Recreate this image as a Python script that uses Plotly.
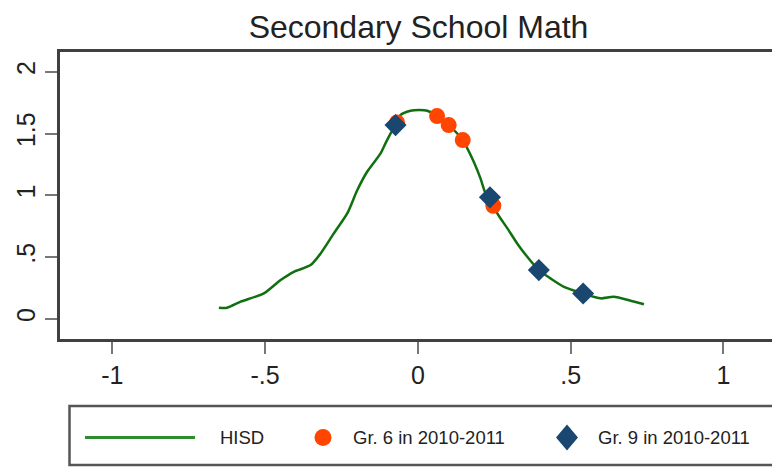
import plotly.graph_objects as go

# HISD kernel density of secondary school math scores
hisd_x = [-0.651, -0.624, -0.58, -0.504, -0.449, -0.406, -0.351, -0.318, -0.275,
          -0.231, -0.198, -0.166, -0.122, -0.106, -0.089, -0.073, -0.057, -0.024,
          0.004, 0.031, 0.063, 0.101, 0.147, 0.162, 0.183, 0.205, 0.222, 0.236,
          0.26, 0.293, 0.325, 0.358, 0.396, 0.434, 0.478, 0.541, 0.598, 0.641,
          0.696, 0.74]
hisd_y = [0.089, 0.089, 0.138, 0.205, 0.313, 0.38, 0.435, 0.529, 0.691,
          0.853, 1.042, 1.19, 1.339, 1.42, 1.501, 1.568, 1.649, 1.684,
          1.69, 1.684, 1.641, 1.568, 1.447, 1.38, 1.271, 1.137, 1.015, 0.983,
          0.853, 0.732, 0.61, 0.502, 0.394, 0.327, 0.259, 0.205, 0.165, 0.178,
          0.146, 0.117]

# Grade 6 cohort (2010-2011)
gr6_x = [-0.068, 0.063, 0.101, 0.147, 0.247]
gr6_y = [1.59, 1.641, 1.568, 1.447, 0.915]

# Grade 9 cohort (2010-2011)
gr9_x = [-0.073, 0.236, 0.396, 0.541]
gr9_y = [1.568, 0.983, 0.394, 0.205]

x_ticks = [-1, -0.5, 0, 0.5, 1]
x_tick_labels = ["-1", "-.5", "0", ".5", "1"]
y_ticks = [0, 0.5, 1, 1.5, 2]
y_tick_labels = ["0", ".5", "1", "1.5", "2"]

legend_labels = ["HISD", "Gr. 6 in 2010-2011", "Gr. 9 in 2010-2011"]
title_text = "Secondary School Math"

W, H = 772, 467
ML, MR, MT, MB = 60, 0, 52, 128
PW, PH = W - ML - MR, H - MT - MB

CURVE = "#107010"
ORANGE = "#ff4500"
NAVY = "#1a476f"
FONT = "Liberation Sans, Arial, Helvetica, sans-serif"


def px_x(p):
    return (p - ML) / PW


def px_y(p):
    return (H - MB - p) / PH


fig = go.Figure()
fig.add_trace(go.Scatter(x=hisd_x, y=hisd_y, mode="lines",
                         line=dict(color=CURVE, width=2.5, shape="spline", smoothing=0.7),
                         name=legend_labels[0], showlegend=False))
fig.add_trace(go.Scatter(x=gr6_x, y=gr6_y, mode="markers",
                         marker=dict(color=ORANGE, size=16, symbol="circle"),
                         name=legend_labels[1], showlegend=False))
fig.add_trace(go.Scatter(x=gr9_x, y=gr9_y, mode="markers",
                         marker=dict(color=NAVY, size=17, symbol="diamond"),
                         name=legend_labels[2], showlegend=False))

axis_common = dict(
    ticks="outside", ticklen=12, tickwidth=2, tickcolor="#777777",
    showline=True, linecolor="#404040", linewidth=3,
    showgrid=False, zeroline=False,
    tickfont=dict(size=25, color="#222222", family=FONT),
)
fig.update_xaxes(range=[-1.171, 1.159], tickvals=x_ticks, ticktext=x_tick_labels,
                 mirror=True, **axis_common)
fig.update_yaxes(range=[-0.164, 2.16], tickvals=y_ticks, ticktext=y_tick_labels,
                 tickangle=-90, mirror=False, **axis_common)

# Legend box drawn below the plot
shapes = [
    dict(type="rect", xref="paper", yref="paper",
         x0=px_x(69.5), x1=px_x(790), y0=px_y(465), y1=px_y(406),
         line=dict(color="#555555", width=2.5), fillcolor="white", layer="above"),
    dict(type="line", xref="paper", yref="paper",
         x0=px_x(85), x1=px_x(195), y0=px_y(437.5), y1=px_y(437.5),
         line=dict(color="#2e8b2e", width=3), layer="above"),
    dict(type="circle", xref="paper", yref="paper",
         xsizemode="pixel", ysizemode="pixel",
         xanchor=px_x(323), yanchor=px_y(437.5),
         x0=-8.5, x1=8.5, y0=-8.5, y1=8.5,
         fillcolor=ORANGE, line=dict(width=0), layer="above"),
    dict(type="path", xref="paper", yref="paper",
         xsizemode="pixel", ysizemode="pixel",
         xanchor=px_x(567), yanchor=px_y(437.5),
         path="M -11 0 L 0 13 L 11 0 L 0 -13 Z",
         fillcolor=NAVY, line=dict(width=0), layer="above"),
]

annotations = [
    dict(text=legend_labels[0], xref="paper", yref="paper",
         x=px_x(218), y=px_y(437.5), xanchor="left", yanchor="middle",
         showarrow=False, font=dict(size=18.5, color="#222222", family=FONT)),
    dict(text=legend_labels[1], xref="paper", yref="paper",
         x=px_x(351), y=px_y(437.5), xanchor="left", yanchor="middle",
         showarrow=False, font=dict(size=18.5, color="#222222", family=FONT)),
    dict(text=legend_labels[2], xref="paper", yref="paper",
         x=px_x(596), y=px_y(437.5), xanchor="left", yanchor="middle",
         showarrow=False, font=dict(size=18.5, color="#222222", family=FONT)),
]

fig.update_layout(
    width=W, height=H,
    margin=dict(l=ML, r=MR, t=MT, b=MB, pad=0),
    paper_bgcolor="white", plot_bgcolor="white",
    title=dict(text=title_text, xref="paper", x=px_x(418.5),
               yref="container", y=1 - 27 / H, xanchor="center", yanchor="middle",
               font=dict(size=32, color="#222222", family=FONT)),
    shapes=shapes, annotations=annotations,
    showlegend=False,
)

fig.write_html("out.html")
